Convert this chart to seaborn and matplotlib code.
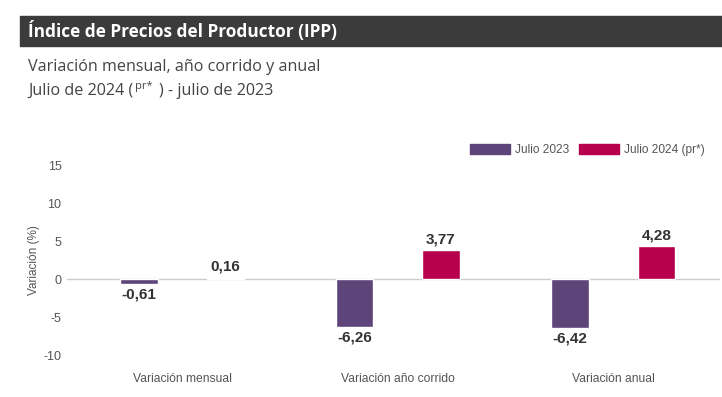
import pandas as pd
import matplotlib
matplotlib.use("Agg")
import matplotlib.pyplot as plt
import seaborn as sns
from matplotlib.patches import Rectangle

# ---------- DATA ----------
categories = ["Variación mensual", "Variación año corrido", "Variación anual"]
series = ["Julio 2023", "Julio 2024 (pr*)"]
jul_2023 = [-0.61, -6.26, -6.42]
jul_2024 = [0.16, 3.77, 4.28]
y_ticks = [-10, -5, 0, 5, 10, 15]

colors = {"Julio 2023": "#5d4479", "Julio 2024 (pr*)": "#b6004b"}

df = pd.DataFrame({
    "categoria": categories * 2,
    "serie": [series[0]] * 3 + [series[1]] * 3,
    "valor": jul_2023 + jul_2024,
})

# ---------- FIGURE ----------
sns.set_style("white")
plt.rcParams["font.family"] = ["Liberation Sans", "DejaVu Sans"]
plt.rcParams["axes.unicode_minus"] = False

W, H = 722, 397
fig = plt.figure(figsize=(W / 100, H / 100), dpi=100)
renderer = fig.canvas.get_renderer()

# header bar
fig.patches.append(Rectangle((20 / W, 1 - 46 / H), 1 - 20 / W, 30 / H,
                             transform=fig.transFigure, color="#3b3b3b", zorder=0))
fig.text(28 / W, 1 - 31 / H, "Índice de Precios del Productor (IPP)",
         family="Open Sans", fontweight="bold", fontsize=12.4, color="white",
         va="center", ha="left")

# subtitle
sub = dict(family="Open Sans", color="#444444", va="center")
fig.text(28 / W, 1 - 67 / H, "Variación mensual, año corrido y anual", fontsize=11.6, **sub)
t1 = fig.text(28 / W, 1 - 91 / H, "Julio de 2024 (", fontsize=11.6, **sub)
x1 = t1.get_window_extent(renderer).x1
t2 = fig.text((x1 + 2) / W, 1 - 86 / H, "pr*", fontsize=8, **sub)
x2 = t2.get_window_extent(renderer).x1
fig.text((x2 + 6) / W, 1 - 91 / H, ") - julio de 2023", fontsize=11.6, **sub)

# ---------- PLOT ----------
ax = fig.add_axes([67 / W, (H - 355) / H, 653 / W, 190 / H])

ax.axhline(0, color="#cccccc", lw=1, zorder=0)

sns.barplot(data=df, x="categoria", y="valor", hue="serie",
            order=categories, hue_order=series, palette=colors,
            saturation=1, gap=0.565, ax=ax, legend=False, zorder=2)

for cont, vals in zip(ax.containers, [jul_2023, jul_2024]):
    ax.bar_label(cont, labels=[f"{v:.2f}".replace(".", ",") for v in vals],
                 padding=3, fontweight="bold", fontsize=11, color="#333333")

ax.set_xlim(-0.535, 2.495)
ax.set_ylim(-10, 15)
ax.set_yticks(y_ticks)
ax.tick_params(axis="both", length=0, labelcolor="#555555")
ax.tick_params(axis="y", pad=4, labelsize=9)
ax.tick_params(axis="x", pad=13, labelsize=8.7)
ax.set_xlabel("")
ax.set_ylabel("Variación (%)", fontsize=8.5, color="#555555")
ax.yaxis.set_label_coords(-0.041, 0.5)
sns.despine(ax=ax, left=True, bottom=True)

# legend
handles = [Rectangle((0, 0), 1, 1, color=colors[s]) for s in series]
fig.legend(handles, series, loc="center right", bbox_to_anchor=(716 / W, 1 - 150 / H),
           ncol=2, frameon=False, fontsize=8.6, handlelength=3.36, handleheight=0.85,
           handletextpad=0.42, columnspacing=0.84, labelcolor="#555555")

fig.savefig("out.png", dpi=100)
